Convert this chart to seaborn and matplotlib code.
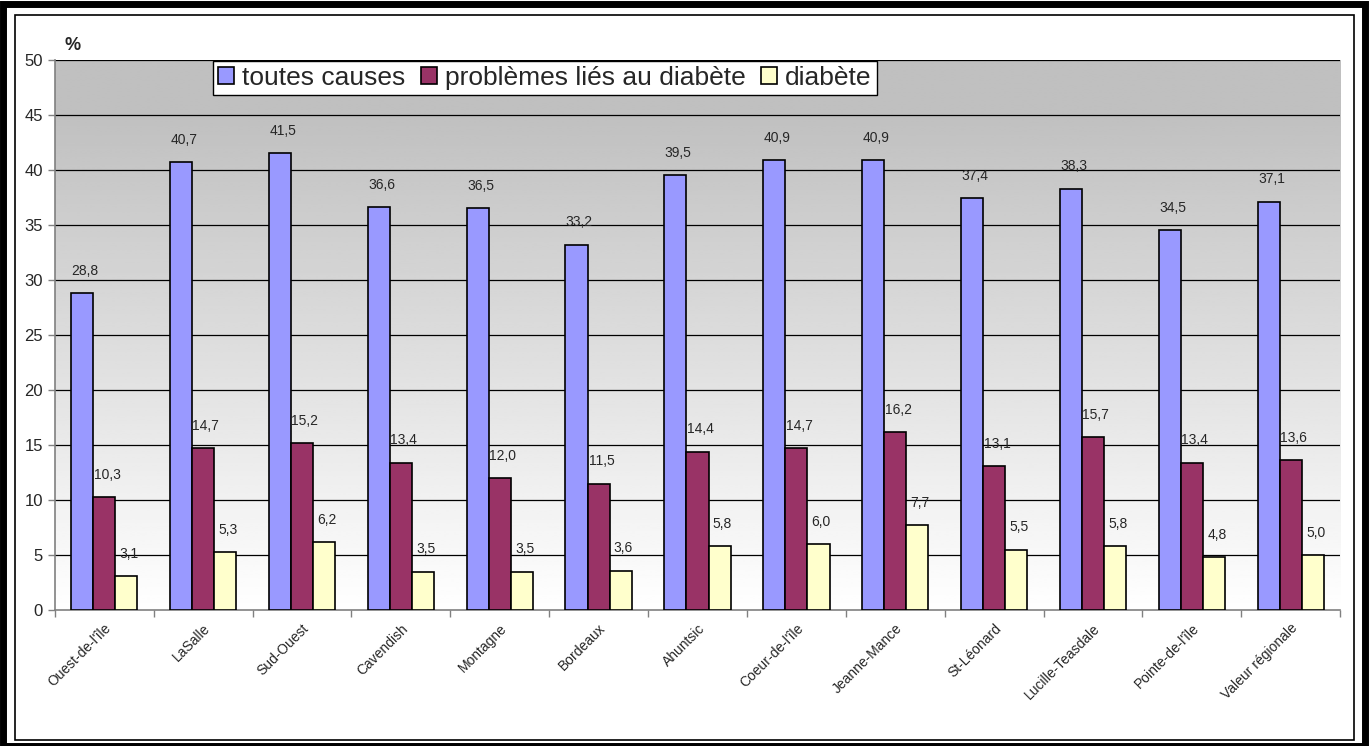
import numpy as np
import pandas as pd
import seaborn as sns
import matplotlib.pyplot as plt
from matplotlib.patches import Rectangle
from matplotlib.ticker import MultipleLocator, FixedLocator

# data
territoires = ["Ouest-de-l'île", "LaSalle", "Sud-Ouest", "Cavendish", "Montagne", "Bordeaux",
               "Ahuntsic", "Coeur-de-l'île", "Jeanne-Mance", "St-Léonard", "Lucille-Teasdale",
               "Pointe-de-l'île", "Valeur régionale"]
toutes_causes = [28.8, 40.7, 41.5, 36.6, 36.5, 33.2, 39.5, 40.9, 40.9, 37.4, 38.3, 34.5, 37.1]
problemes_diabete = [10.3, 14.7, 15.2, 13.4, 12.0, 11.5, 14.4, 14.7, 16.2, 13.1, 15.7, 13.4, 13.6]
diabete = [3.1, 5.3, 6.2, 3.5, 3.5, 3.6, 5.8, 6.0, 7.7, 5.5, 5.8, 4.8, 5.0]
series = ["toutes causes", "problèmes liés au diabète", "diabète"]
couleurs = ["#9999FF", "#993366", "#FFFFCC"]

df = pd.DataFrame({
    'territoire': territoires * 3,
    'serie': [series[0]] * 13 + [series[1]] * 13 + [series[2]] * 13,
    'valeur': toutes_causes + problemes_diabete + diabete,
})

sns.set_style('white')
plt.rcParams['font.family'] = ['Liberation Sans', 'DejaVu Sans']

fig = plt.figure(figsize=(13.69, 7.46), dpi=100)
ax = fig.add_axes([0.040, 0.182, 0.939, 0.738])

# gradient background (gray top -> white bottom)
yy = np.linspace(0, 50, 200)
shade = np.clip(1 - (yy / 45) * (1 - 0.753), 0.753, 1.0)
grad = np.repeat(shade[::-1, None], 2, axis=1)
ax.imshow(grad, cmap='gray', vmin=0, vmax=1, extent=[-0.5, 12.5, 0, 50],
          aspect='auto', zorder=0, interpolation='bilinear')

sns.barplot(data=df, x='territoire', y='valeur', hue='serie', palette=couleurs,
            width=0.67, edgecolor='black', linewidth=1.2, saturation=1, ax=ax, zorder=3)

ax.set_xlim(-0.5, 12.5)
ax.set_ylim(0, 50)
ax.yaxis.set_major_locator(MultipleLocator(5))
for y in range(5, 51, 5):
    ax.axhline(y, color='black', lw=0.9, zorder=1)

for c in ax.containers:
    for bar, v in zip(c, c.datavalues):
        ax.annotate(f"{v:.1f}".replace('.', ','), (bar.get_x() + bar.get_width() / 2, v),
                    xytext=(2, 11), textcoords='offset points', ha='center', va='bottom',
                    fontsize=10, zorder=5)

ax.set_xlabel('')
ax.set_ylabel('')
ax.tick_params(axis='y', labelsize=12, length=5, width=1, color='#808080', direction='out', left=True)
ax.set_xticks(range(13))
ax.set_xticklabels(territoires, rotation=45, ha='right', rotation_mode='anchor', fontsize=10)
ax.tick_params(axis='x', which='major', length=0, pad=8)
ax.xaxis.set_minor_locator(FixedLocator(np.arange(-0.5, 13, 1)))
ax.tick_params(axis='x', which='minor', length=5, width=1, color='#808080', bottom=True)

for s in ['top', 'right']:
    ax.spines[s].set_visible(False)
for s in ['left', 'bottom']:
    ax.spines[s].set_color('#808080')
    ax.spines[s].set_linewidth(1.2)

leg = ax.legend(loc='upper left', bbox_to_anchor=(0.123, 0.998), ncol=3, fontsize=19,
                frameon=True, fancybox=False, edgecolor='black', framealpha=1,
                handlelength=0.6, handleheight=0.6, handletextpad=0.3, columnspacing=0.6,
                borderpad=0.2, borderaxespad=0)
leg.get_frame().set_linewidth(1)
leg.set_zorder(10)

fig.text(0.047, 0.933, '%', fontsize=13, fontweight='bold')

# figure borders
fig.patches.append(Rectangle((0.011, 0.008), 0.978, 0.972, transform=fig.transFigure,
                             fill=False, edgecolor='black', lw=1.2))
fig.patches.append(Rectangle((0.0025, 0.0), 0.9945, 0.995, transform=fig.transFigure,
                             fill=False, edgecolor='black', lw=5))

fig.savefig('out.png', dpi=100)
